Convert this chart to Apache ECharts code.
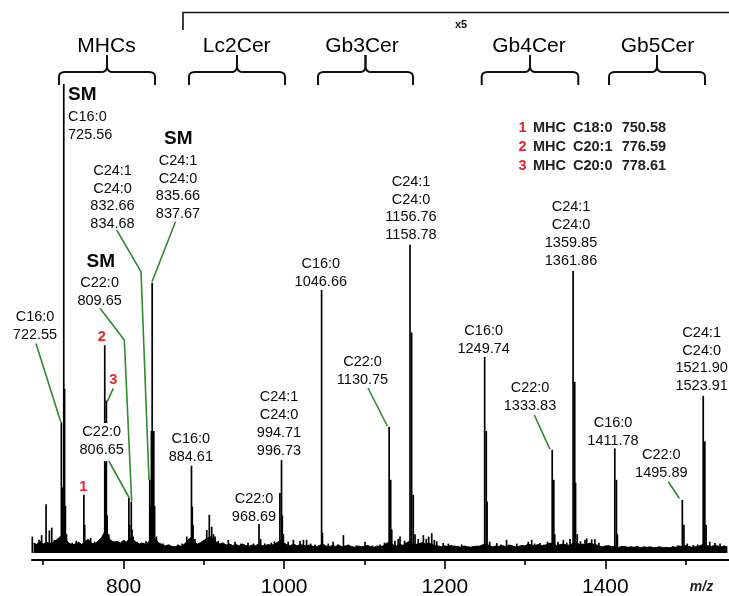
<!DOCTYPE html>
<html><head><meta charset="utf-8">
<script src="https://cdn.jsdelivr.net/npm/echarts@6/dist/echarts.min.js"></script>
<style>html,body{margin:0;padding:0;background:#fff}#c{width:729px;height:596px}</style>
</head><body><div id="c"></div>
<script>
// ---------- data (m/z, relative intensity as displayed) ----------
const peakMz = [
 686.4,694.8,698,703.5,707.6,710.6,713.8,718,
 722.55,723.55,725.56,726.57,727.6,729,
 736,741,745,
 750.58,751.6,755,759,764,770.7,
 776.59,777.6,778.61,779.6,781.6,787.3,793,798,
 806.65,807.6,809.65,810.6,812,817,822,828,
 832.66,833.7,834.68,835.66,836.67,837.67,838.7,841,849,856,868,873,
 878.7,882,884.61,885.6,886.6,889,
 903.6,906.8,909.8,912,914,918,923,
 930.5,938.9,946,955,962,968.69,970.7,976,984,988,
 994.71,996.73,997.7,999,1005,1011.5,1019.8,1024,1028,1033,1038.5,
 1046.66,1047.7,1055,1061,1067,1073.8,1080,1090,1100.7,1110,1119.4,1125,
 1130.75,1132.7,1134,1138,1142,1144.3,1150,
 1156.76,1158.78,1160.8,1163,1167,1173.4,1177,1180,1183.8,1187,1190,
 1198,1204.5,1212,1221,1230,1240,
 1249.74,1251.7,1252.7,1256,1264.8,1270,1277,1283,1289.7,1296,1304,1308.3,1312,1318.7,1324,1328,
 1333.83,1335.8,1337,1341,1347.7,1352,1356,
 1359.85,1361.86,1362.9,1365,1369,1374.7,1376.8,1383,1387,1392,1400,
 1411.78,1413.8,1415,1420,1426.7,1432,1439,1448,1456,1466,1475,1484,1490,
 1495.89,1497.9,1502,1509.6,1515,
 1521.90,1523.91,1525.5,1530,1536.6,1542.9,1548
];
const peakInt = [
 3.5,2.8,3.8,10.4,4.8,5.4,2.8,2.5,
 27.9,14,100,35,10,4,
 2.2,2.6,2.0,
 12.4,6,2.2,3.2,2.4,2.8,
 44.3,19.2,32.5,8,4,2.5,2.4,2.2,
 11.7,6,10.9,5,3.5,2.4,2.2,2.5,
 15.6,10,26,57.6,26,26,10,3.5,2,1.8,1.8,2,
 3.5,3,18.6,9.9,6,3,
 4.9,8.1,5.6,4,3.5,2.6,2.2,
 2.8,2.4,2.0,2.2,2,6.2,3,2,2.2,2.5,
 12.8,19.8,8,4,2.4,2.8,2.6,2.8,2.8,2,1.8,
 56.1,4.3,2,2.4,1.8,3.8,1.8,1.6,2.4,1.6,1.8,2.2,
 26.9,15.6,5,2.6,3,3.5,2.6,
 65.7,47,12.4,4,3,3.8,3,3.5,4.2,2.8,2.5,
 2.1,2,1.6,1.8,1.4,1.6,
 41.8,26,11,2.4,2.1,1.8,2.8,1.6,2,1.7,2.4,2.8,2,2.1,1.8,2.4,
 22,15.6,4,2.4,2.8,2.2,3,
 60.1,36.5,15,4,2.5,2.8,3.1,2.9,2.9,2.2,1.6,
 22.3,15.6,4,1.5,1.3,1.2,1.5,1.2,1.3,1.1,1.2,1.4,1.6,
 11.3,6,2,1.7,1.8,
 33.5,23.8,6,2.4,2.1,2,1.6
];
// baseline noise band, one level every 4 m/z from 688
const noiseStart = 688, noiseStep = 4;
const noiseLevel = [
 2.1,1.8,2.5,1.9,2.3,2.0,2.2,2.7,3.3,3.8,2.9,
 2.1,1.7,1.9,2.3,1.8,2.5,2.9,2.1,1.9,2.5,3.1,
 4.3,3.5,2.7,2.3,2.5,2.1,2.7,2.3,3.3,2.9,2.2,
 1.9,2.1,1.8,2.5,3.5,2.9,2.1,1.8,1.5,1.7,1.4,
 1.3,1.6,1.4,1.9,2.7,3.3,2.3,1.9,2.2,2.7,3.1,
 3.5,2.9,2.3,1.9,2.1,1.7,1.9,1.6,1.8,1.5,1.9,
 1.6,1.4,1.7,1.5,1.9,1.6,1.5,1.8,1.6,1.9,2.3,
 2.9,2.1,1.7,1.6,1.9,1.5,1.8,1.6,1.5,1.7,1.4,
 1.3,1.6,1.9,1.5,1.3,1.6,1.4,1.7,1.3,1.5,1.6,
 1.4,1.2,1.5,1.3,1.4,1.6,1.3,1.2,1.5,1.3,1.6,
 2.1,2.3,1.7,1.5,1.9,1.6,2.1,2.5,1.9,1.8,2.0,
 2.2,1.9,2.1,1.8,1.6,1.5,1.3,1.5,1.4,1.6,1.3,
 1.4,1.2,1.5,1.3,1.2,1.4,1.3,1.5,1.8,1.9,1.5,
 1.3,1.5,1.4,1.6,1.3,1.7,1.5,1.3,1.4,1.6,1.5,
 1.9,1.7,1.5,1.8,1.6,1.5,1.9,2.1,1.7,1.6,1.8,
 1.9,1.6,1.7,2.1,2.3,1.8,1.9,1.7,2.1,1.9,1.8,
 1.5,1.3,1.4,1.6,1.3,1.5,1.2,1.3,1.4,1.2,1.3,
 1.2,1.4,1.1,1.3,1.2,1.3,1.1,1.2,1.3,1.1,1.2,
 1.1,1.3,1.2,1.5,1.3,1.6,1.4,1.2,1.3,1.4,1.7,
 1.9,1.5,1.4,1.6,1.5,1.3,1.4,1.3
];
const majorTicks = [800, 1000, 1200, 1400];
const minorTicks = [700, 900, 1100, 1300, 1500];
const groupNames = ['MHCs', 'Lc2Cer', 'Gb3Cer', 'Gb4Cer', 'Gb5Cer'];
const legendNums = ['1', '2', '3'];
const legendClass = ['MHC', 'MHC', 'MHC'];
const legendChain = ['C18:0', 'C20:1', 'C20:0'];
const legendMz = ['750.58', '776.59', '778.61'];

// ---------- layout ----------
const FF = '"Liberation Sans", Arial, Helvetica, sans-serif';
const GREEN = '#2e8b2e', RED = '#e3262e';
const LH = 17.8;
const graphics = [];
function txt(x, y, text, o) {
  o = o || {};
  const st = {
    text: text, x: x, y: y,
    fontFamily: FF, fontSize: o.size || 14.5, fontWeight: o.weight || 'normal',
    fontStyle: o.style || 'normal',
    fill: o.color || '#0a0a0a', lineHeight: o.lh || LH,
    align: o.align || 'center', textAlign: o.align || 'center',
    verticalAlign: o.va || 'top', textVerticalAlign: o.va || 'top'
  };
  graphics.push({ type: 'text', z: 100, silent: true, style: st });
}
function lbl(cx, firstCenterY, lines, align) {
  txt(cx, firstCenterY - LH / 2, lines.join('\n'), { align: align || 'center' });
}
function sm(cx, cy, align) {
  txt(cx, cy, 'SM', { size: 19, weight: 'bold', va: 'middle', align: align || 'center' });
}
function pline(pts, color, w) {
  graphics.push({ type: 'polyline', z: 90, silent: true, shape: { points: pts },
    style: { stroke: color, lineWidth: w, fill: null } });
}
function lead(pts) { pline(pts, GREEN, 1.6); }
function quad(p0, c, p1, n) {
  const out = [];
  for (let k = 0; k <= n; k++) {
    const t = k / n, a = (1 - t) * (1 - t), b = 2 * (1 - t) * t, d = t * t;
    out.push([a * p0[0] + b * c[0] + d * p1[0], a * p0[1] + b * c[1] + d * p1[1]]);
  }
  return out;
}

// group brackets
const brackets = [[59, 155, 106.5], [189, 285, 236.7], [318, 413, 362], [481.7, 578.3, 529], [609, 705, 657.5]];
brackets.forEach(function (b, i) {
  const x0 = b[0], x1 = b[1], xc = (x0 + x1) / 2;
  const left = [[x0, 85]].concat(quad([x0, 77], [x0, 72], [x0 + 6, 72], 6))
    .concat(quad([xc - 5, 72], [xc, 71.5], [xc, 66], 6)).concat([[xc, 55]]);
  const right = [[xc, 55]].concat(quad([xc, 66], [xc, 71.5], [xc + 5, 72], 6))
    .concat(quad([x1 - 6, 72], [x1, 72], [x1, 77], 6)).concat([[x1, 85]]);
  pline(left, '#111', 2);
  pline(right, '#111', 2);
  txt(b[2], 46, groupNames[i], { size: 21, va: 'middle', color: '#000' });
});
// x5 bracket
pline([[183, 30], [183, 12.5], [729, 12.5]], '#111', 1.6);
txt(461, 25, 'x5', { size: 11, weight: 'bold', va: 'middle' });

// legend (top right)
[128, 147, 165.5].forEach(function (y, i) {
  txt(518.5, y, legendNums[i], { align: 'left', va: 'middle', color: RED, weight: 'bold' });
  txt(533, y, legendClass[i], { align: 'left', va: 'middle', weight: 'bold', color: '#222' });
  txt(573, y, legendChain[i], { align: 'left', va: 'middle', weight: 'bold', color: '#222' });
  txt(621.7, y, legendMz[i], { align: 'left', va: 'middle', weight: 'bold', color: '#222' });
});

// white mask behind the 806.65 label (it covers the 776/778 peaks)
graphics.push({ type: 'rect', z: 95, silent: true, shape: { x: 79, y: 423, width: 46, height: 38 },
  style: { fill: '#fff' } });

// peak annotations
sm(68, 95, 'left');
lbl(68, 117, ['C16:0', '725.56'], 'left');
sm(178.3, 138.3);
lbl(178, 160.8, ['C24:1', 'C24:0', '835.66', '837.67']);
lbl(112.5, 170.8, ['C24:1', 'C24:0', '832.66', '834.68']);
sm(100.8, 261.7);
lbl(99.6, 282.7, ['C22:0', '809.65']);
lbl(35, 316.7, ['C16:0', '722.55']);
txt(101.7, 336.7, '2', { color: RED, weight: 'bold', va: 'middle' });
txt(113.3, 380, '3', { color: RED, weight: 'bold', va: 'middle' });
txt(83.3, 486.7, '1', { color: RED, weight: 'bold', va: 'middle' });
lbl(101.7, 431.7, ['C22:0', '806.65']);
lbl(190.8, 439.3, ['C16:0', '884.61']);
lbl(254, 499.3, ['C22:0', '968.69']);
lbl(279, 397.3, ['C24:1', 'C24:0', '994.71', '996.73']);
lbl(320.8, 264, ['C16:0', '1046.66']);
lbl(362.5, 362.3, ['C22:0', '1130.75']);
lbl(411, 181.8, ['C24:1', 'C24:0', '1156.76', '1158.78']);
lbl(483.7, 330.7, ['C16:0', '1249.74']);
lbl(530, 388.3, ['C22:0', '1333.83']);
lbl(571, 207.3, ['C24:1', 'C24:0', '1359.85', '1361.86']);
lbl(613, 423.3, ['C16:0', '1411.78']);
lbl(661.3, 455, ['C22:0', '1495.89']);
lbl(701.7, 332.7, ['C24:1', 'C24:0', '1521.90', '1523.91']);

// green leader lines
lead([[36, 343.5], [60.7, 421.7]]);
lead([[100, 308.3], [124.3, 340], [131.7, 501.7]]);
lead([[116.7, 230], [141, 271.7], [149, 480]]);
lead([[175.5, 221.7], [152, 281.7]]);
lead([[108.3, 460], [129.3, 498]]);
lead([[113.3, 388.3], [107.3, 401.7]]);
lead([[368, 388], [387.3, 426]]);
lead([[534.3, 415], [550, 449.3]]);
lead([[668.3, 481.7], [679.3, 498.3]]);

// axis title
txt(701.5, 587, 'm/z', { size: 14, weight: 'bold', style: 'italic', va: 'middle', color: '#222' });

// ---------- chart ----------
const sticks = peakMz.map(function (m, i) { return [m, peakInt[i]]; });
const noise = noiseLevel.map(function (v, i) { return [noiseStart + i * noiseStep, v]; });

const chart = echarts.init(document.getElementById('c'), null, { renderer: 'canvas' });
chart.setOption({
  animation: false,
  backgroundColor: '#fff',
  grid: { left: 32, right: 0, top: 84, bottom: 36, outerBoundsMode: 'none', containLabel: false },
  xAxis: [{
    type: 'value', min: 686, max: 1554, position: 'bottom',
    axisLine: { onZero: false, lineStyle: { color: '#000', width: 2 } },
    axisTick: { customValues: majorTicks, length: 9, lineStyle: { color: '#000', width: 1.6 } },
    axisLabel: { customValues: majorTicks, fontSize: 21, color: '#000', margin: 17, fontFamily: FF,
      formatter: function (v) { return String(Math.round(v)); } },
    splitLine: { show: false }
  }, {
    type: 'value', min: 686, max: 1554, position: 'bottom',
    axisLine: { show: false, onZero: false },
    axisTick: { customValues: minorTicks, length: 5, lineStyle: { color: '#000', width: 1.6 } },
    axisLabel: { show: false },
    splitLine: { show: false }
  }],
  yAxis: { type: 'value', min: -1.5, max: 100, show: false, splitLine: { show: false } },
  series: [{
    type: 'line', data: noise, symbol: 'none', silent: true,
    lineStyle: { color: '#000', width: 1 },
    areaStyle: { color: '#000', opacity: 1, origin: 0 }
  }, {
    type: 'custom', data: sticks, silent: true,
    renderItem: function (params, api) {
      const x = api.value(0), h = api.value(1);
      const p0 = api.coord([x, 0]), p1 = api.coord([x, h]);
      return { type: 'line', shape: { x1: p0[0], y1: p0[1], x2: p1[0], y2: p1[1] },
        style: { stroke: '#000', lineWidth: 1.7 } };
    }
  }],
  graphic: graphics
});
</script>
</body></html>
